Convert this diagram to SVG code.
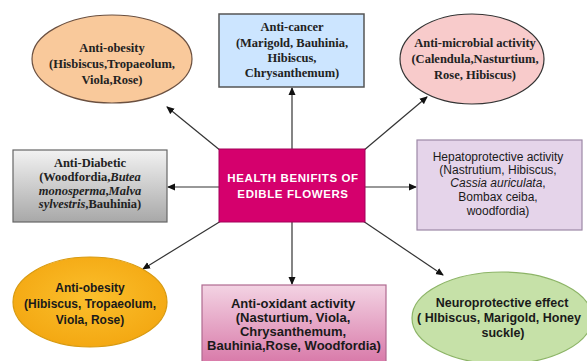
<svg xmlns="http://www.w3.org/2000/svg" width="587" height="361" viewBox="0 0 587 361">
<defs>
<marker id="ah" markerWidth="8" markerHeight="8" refX="7" refY="4" orient="auto" markerUnits="userSpaceOnUse">
<path d="M0,0.5 L8,4 L0,7.5 z" fill="#111"/>
</marker>
<linearGradient id="gGrey" x1="0" y1="0" x2="0" y2="1">
<stop offset="0" stop-color="#f2f2f2"/><stop offset="1" stop-color="#a8a8a8"/>
</linearGradient>
<linearGradient id="gPink" x1="0" y1="0" x2="0" y2="1">
<stop offset="0" stop-color="#f3d3e3"/><stop offset="1" stop-color="#d775a6"/>
</linearGradient>
<radialGradient id="gOrange" cx="0.5" cy="0.45" r="0.6">
<stop offset="0" stop-color="#fbbf2c"/><stop offset="1" stop-color="#f3a610"/>
</radialGradient>
<style>
.serif{font-family:"Liberation Serif","Times New Roman",serif;font-weight:bold;font-size:12.5px;fill:#222;text-anchor:middle}
.sans{font-family:"Liberation Sans",Arial,sans-serif;font-size:12px;fill:#1a1a1a;text-anchor:middle}
.b{font-weight:bold}
.ctr{fill:#fff;font-size:11.5px;letter-spacing:0.6px}
.conn line{stroke:#333;stroke-width:1.2;marker-end:url(#ah)}
</style>
</defs>
<rect width="587" height="361" fill="#ffffff"/>
<g class="conn" id="connectors">
<line x1="221" y1="151" x2="167" y2="107"/>
<line x1="292" y1="149" x2="292" y2="88"/>
<line x1="363" y1="151" x2="427" y2="97"/>
<line x1="219" y1="187" x2="168" y2="187"/>
<line x1="365" y1="187" x2="416" y2="187"/>
<line x1="221" y1="221" x2="143" y2="269"/>
<line x1="292" y1="222" x2="292" y2="284"/>
<line x1="363" y1="221" x2="443" y2="275"/>
</g>
<g id="n-center">
<rect x="219" y="149" width="146" height="73" fill="#d5006d" stroke="#a3005a" stroke-width="1"/>
<text class="sans b ctr" x="293" y="182">HEALTH BENIFITS OF</text>
<text class="sans b ctr" x="293" y="198">EDIBLE FLOWERS</text>
</g>
<g id="n-antiobesity1">
<ellipse cx="112" cy="59" rx="80" ry="44" fill="#f9c99b" stroke="#6b5040" stroke-width="1.2"/>
<text class="serif" x="112" y="52">Anti-obesity</text>
<text class="serif" x="112" y="68">(Hisbiscus,Tropaeolum,</text>
<text class="serif" x="112" y="84">Viola,Rose)</text>
</g>
<g id="n-anticancer">
<rect x="219" y="14" width="145" height="73" fill="#cce5ff" stroke="#555" stroke-width="1.5"/>
<text class="serif" x="292" y="31">Anti-cancer</text>
<text class="serif" x="292" y="47">(Marigold, Bauhinia,</text>
<text class="serif" x="292" y="62">Hibiscus,</text>
<text class="serif" x="292" y="77">Chrysanthemum)</text>
</g>
<g id="n-antimicrobial">
<ellipse cx="472" cy="59" rx="72" ry="45" fill="#f8cbcb" stroke="#333" stroke-width="1.2"/>
<text class="serif" x="475" y="47">Anti-microbial activity</text>
<text class="serif" x="475" y="63">(Calendula,Nasturtium,</text>
<text class="serif" x="475" y="79">Rose, Hibiscus)</text>
</g>
<g id="n-antidiabetic">
<rect x="13" y="150" width="154" height="72" fill="url(#gGrey)" stroke="#666" stroke-width="1.2"/>
<text class="serif" x="90" y="167">Anti-Diabetic</text>
<text class="serif" x="90" y="181">(Woodfordia,<tspan font-style="italic">Butea</tspan></text>
<text class="serif" x="90" y="195"><tspan font-style="italic">monosperma</tspan>,<tspan font-style="italic">Malva</tspan></text>
<text class="serif" x="90" y="208"><tspan font-style="italic">sylvestris</tspan>,Bauhinia)</text>
</g>
<g id="n-hepato">
<rect x="417" y="140" width="165" height="90" fill="#e5d4ea" stroke="#9c88a6" stroke-width="1.2"/>
<text class="sans" x="498" y="161">Hepatoprotective activity</text>
<text class="sans" x="498" y="174">(Nastrutium, Hibiscus,</text>
<text class="sans" x="498" y="187"><tspan font-style="italic">Cassia auriculata</tspan>,</text>
<text class="sans" x="498" y="201">Bombax ceiba,</text>
<text class="sans" x="498" y="215">woodfordia)</text>
</g>
<g id="n-antiobesity2">
<ellipse cx="90" cy="302" rx="77" ry="45" fill="url(#gOrange)" stroke="#d89a10" stroke-width="1.2"/>
<text class="sans b" x="90" y="292">Anti-obesity</text>
<text class="sans b" x="90" y="308">(Hibiscus, Tropaeolum,</text>
<text class="sans b" x="90" y="324">Viola, Rose)</text>
</g>
<g id="n-antioxidant">
<rect x="202" y="285" width="184" height="82" fill="url(#gPink)" stroke="#b06a90" stroke-width="1.2"/>
<text class="sans b" style="font-size:13px" x="293" y="308">Anti-oxidant activity</text>
<text class="sans b" style="font-size:13px" x="293" y="322">(Nasturtium, Viola,</text>
<text class="sans b" style="font-size:13px" x="293" y="336">Chrysanthemum,</text>
<text class="sans b" style="font-size:13px" x="294" y="350">Bauhinia,Rose, Woodfordia)</text>
</g>
<g id="n-neuro">
<ellipse cx="502" cy="318" rx="90" ry="46" fill="#c6e1a8" stroke="#8cb466" stroke-width="1.2"/>
<text class="sans b" style="font-size:12.5px" x="502" y="307">Neuroprotective effect</text>
<text class="sans b" style="font-size:12.5px" x="499" y="322">( HIbiscus, Marigold, Honey</text>
<text class="sans b" style="font-size:12.5px" x="503" y="337">suckle)</text>
</g>
</svg>
